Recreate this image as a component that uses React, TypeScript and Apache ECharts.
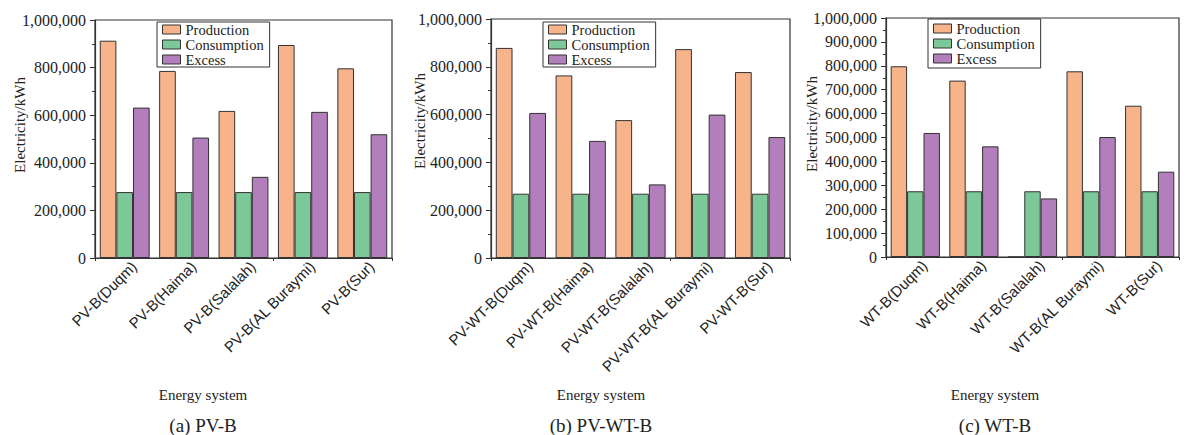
import React, { useEffect, useRef } from "react";
import * as echarts from "echarts";

// Sites and series shared by the three panels
const sites = ["Duqm", "Haima", "Salalah", "AL Buraymi", "Sur"];
const seriesNames = ["Production", "Consumption", "Excess"];
const seriesColors = ["#F7B38A", "#7DC899", "#B27EBC"];

// (a) PV-B
const pvbProduction = [913000, 786000, 618000, 895000, 797000];
const pvbConsumption = [277000, 277000, 277000, 277000, 277000];
const pvbExcess = [632000, 506000, 341000, 614000, 520000];

// (b) PV-WT-B
const pvwtbProduction = [879000, 764000, 577000, 874000, 778000];
const pvwtbConsumption = [269000, 269000, 269000, 269000, 269000];
const pvwtbExcess = [607000, 490000, 308000, 600000, 506000];

// (c) WT-B
const wtbProduction = [798000, 738000, 0, 777000, 633000];
const wtbConsumption = [275000, 275000, 275000, 275000, 275000];
const wtbExcess = [519000, 463000, 245000, 502000, 357000];

const panelPrefixes = ["PV-B", "PV-WT-B", "WT-B"];
const panelCaptions = ["(a) PV-B", "(b) PV-WT-B", "(c) WT-B"];
const yIntervals = [200000, 200000, 100000];
const yMax = 1000000;

const SERIF = "Liberation Serif";
const SANS = "Liberation Sans";
const INK = "#222";
const LINE = "#333";

export default function App() {
  const ref = useRef<HTMLDivElement>(null);

  useEffect(() => {
    document.body.style.margin = "0";
    if (!ref.current) return;
    const chart = echarts.init(ref.current, null, { renderer: "svg" });

    const panelData = [
      [pvbProduction, pvbConsumption, pvbExcess],
      [pvwtbProduction, pvwtbConsumption, pvwtbExcess],
      [wtbProduction, wtbConsumption, wtbExcess],
    ];

    const grids = [
      { left: 95, top: 20, width: 297, height: 238 },
      { left: 491, top: 19, width: 299, height: 239 },
      { left: 886, top: 18, width: 293, height: 239 },
    ];

    const legendPos = [
      { left: 157, top: 22, padding: [0, 6, 0, 5] },
      { left: 543, top: 22, padding: [0, 6, 0, 5] },
      { left: 928, top: 19, padding: [2, 6, 2, 5] },
    ];

    const titleX = [20, 420, 812];
    const titleY = [125, 121, 124];
    const centerX = [203, 601, 995];

    const xAxes: any[] = [];
    const yAxes: any[] = [];
    const series: any[] = [];
    const graphics: any[] = [];

    panelPrefixes.forEach((prefix, p) => {
      const cats = sites.map((s) => `${prefix}(${s})`);
      // category axis with labels and ticks at the group centres
      xAxes.push({
        type: "category",
        gridIndex: p,
        data: cats,
        axisLine: { lineStyle: { color: LINE, width: 1.2 } },
        axisTick: { alignWithLabel: true, length: 4, lineStyle: { color: LINE } },
        axisLabel: {
          rotate: 45,
          interval: 0,
          margin: 15,
          padding: [0, -13, 0, 0],
          color: INK,
          fontFamily: SANS,
          fontSize: 15,
        },
      });
      // companion axis: ticks at group boundaries only
      xAxes.push({
        type: "category",
        gridIndex: p,
        position: "bottom",
        data: cats,
        axisLine: { show: false },
        axisTick: { show: true, length: 3, lineStyle: { color: LINE } },
        axisLabel: { show: false },
      });
      yAxes.push({
        type: "value",
        gridIndex: p,
        min: 0,
        max: yMax,
        interval: yIntervals[p],
        splitLine: { show: false },
        axisLine: { show: true, lineStyle: { color: LINE, width: 1.2 } },
        axisTick: { show: true, length: 5, lineStyle: { color: LINE } },
        minorTick: { show: true, splitNumber: 2, length: 3, lineStyle: { color: LINE } },
        axisLabel: {
          margin: 9,
          color: INK,
          fontFamily: SERIF,
          fontSize: 16,
          formatter: (v: number) => v.toLocaleString("en-US"),
        },
      });
      panelData[p].forEach((values, s) => {
        series.push({
          type: "bar",
          name: seriesNames[s],
          xAxisIndex: p * 2,
          yAxisIndex: p,
          data: values,
          barGap: "0%",
          barCategoryGap: "16%",
          itemStyle: { color: seriesColors[s], borderColor: LINE, borderWidth: 1 },
        });
      });
      graphics.push({
        type: "text",
        x: titleX[p],
        y: titleY[p],
        rotation: Math.PI / 2,
        style: {
          text: "Electricity/kWh",
          fill: INK,
          fontFamily: SERIF,
          fontSize: 15,
          align: "center",
          verticalAlign: "middle",
        },
      });
      graphics.push({
        type: "text",
        x: centerX[p],
        y: 395,
        style: {
          text: "Energy system",
          fill: INK,
          fontFamily: SERIF,
          fontSize: 15,
          align: "center",
          verticalAlign: "middle",
        },
      });
      graphics.push({
        type: "text",
        x: centerX[p],
        y: 425,
        style: {
          text: panelCaptions[p],
          fill: INK,
          fontFamily: SERIF,
          fontSize: 19,
          align: "center",
          verticalAlign: "middle",
        },
      });
    });

    const legends = legendPos.map((lp) => ({
      left: lp.left,
      top: lp.top,
      padding: lp.padding,
      orient: "vertical",
      icon: "rect",
      itemGap: 0,
      itemWidth: 18,
      itemHeight: 9,
      borderColor: LINE,
      borderWidth: 1,
      selectedMode: false,
      data: seriesNames,
      itemStyle: { borderColor: LINE, borderWidth: 1 },
      textStyle: {
        color: INK,
        fontFamily: SERIF,
        fontSize: 14.5,
      },
    }));

    chart.setOption({
      animation: false,
      backgroundColor: "#fff",
      grid: grids.map((g) => ({
        ...g,
        show: true,
        borderColor: LINE,
        borderWidth: 1.2,
        backgroundColor: "transparent",
        containLabel: false,
      })),
      xAxis: xAxes,
      yAxis: yAxes,
      legend: legends,
      series,
      graphic: graphics,
    });

    return () => chart.dispose();
  }, []);

  return <div ref={ref} style={{ width: 1188, height: 435 }} />;
}
